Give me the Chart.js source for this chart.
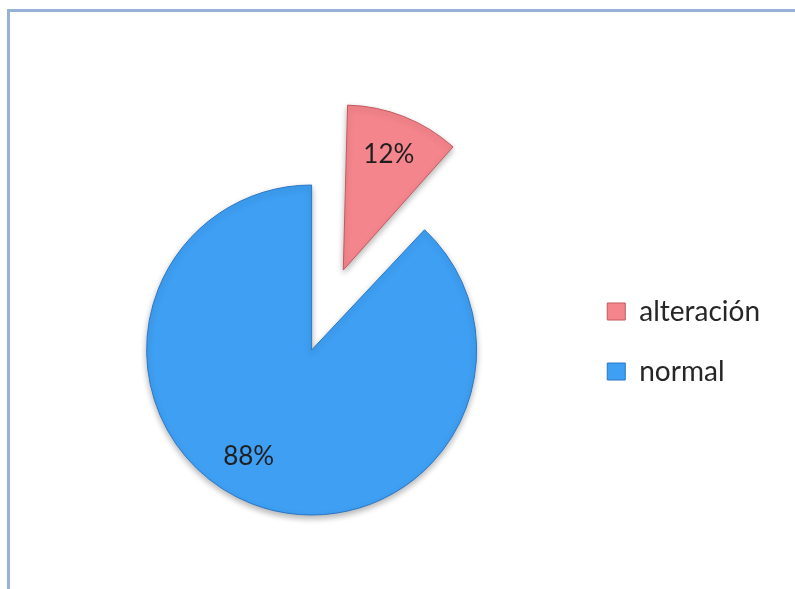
<!DOCTYPE html>
<html>
<head>
<meta charset="utf-8">
<script src="https://cdn.jsdelivr.net/npm/chart.js@4.4.1/dist/chart.umd.min.js"></script>
<style>
    body { margin: 0; background: #fff; overflow: hidden; }
    #wrap { position: relative; width: 795px; height: 589px; }
    #frame {
        position: absolute; left: 7px; top: 9px; width: 900px; height: 700px;
        border-top: 3px solid #96b2d6; border-left: 3px solid #96b2d6;
    }
</style>
</head>
<body>
<div id="wrap">
    <div id="frame"></div>
    <canvas id="myChart"></canvas>
</div>
<script>
// data
const labels = ["alteración", "normal"];
const values = [12, 88];
const colors = ["#f5858c", "#3e9ff3"];
const edges = ["#c4585f", "#2a77c6"];
const offsets = [344, 0];   // pulls the 12% slice out (chart.js moves it by offset/4)
const labelTurn = [0, 9];   // degrees, nudges the % text along the slice

// chart.js also grows an offset slice's radius, undo that so both slices match
function radiusGrow(arc, i) {
    const fix = 1 - Math.sin(Math.min(Math.PI, arc.circumference));
    return offsets[i] / 4 * fix;
}

const explode = {
    id: "explode",
    afterUpdate(chart) {
        chart.getDatasetMeta(0).data.forEach((arc, i) => {
            arc.outerRadius -= radiusGrow(arc, i);
        });
    }
};

// draw percentages inside slices
const pctLabels = {
    id: "pctLabels",
    afterDatasetsDraw(chart) {
        const ctx = chart.ctx;
        const meta = chart.getDatasetMeta(0);
        const total = values.reduce((a, b) => a + b, 0);
        ctx.save();
        ctx.font = "26px Lato";
        ctx.fillStyle = "#1f1f1f";
        ctx.textAlign = "center";
        ctx.textBaseline = "middle";
        meta.data.forEach((arc, i) => {
            const mid = (arc.startAngle + arc.endAngle) / 2;
            const shift = offsets[i] / 4;
            const r = (arc.outerRadius + radiusGrow(arc, i)) * 0.75;
            const a = mid + labelTurn[i] * Math.PI / 180;
            const x = arc.x + Math.cos(mid) * shift + Math.cos(a) * r;
            const y = arc.y + Math.sin(mid) * shift + Math.sin(a) * r;
            ctx.fillText(Math.round(values[i] / total * 100) + "%", x, y);
        });
        ctx.restore();
    }
};

// soft shadow under the pie
const pieShadow = {
    id: "pieShadow",
    beforeDatasetsDraw(chart) {
        const ctx = chart.ctx;
        ctx.save();
        ctx.shadowColor = "rgba(0,0,0,0.3)";
        ctx.shadowBlur = 6;
        ctx.shadowOffsetY = 3;
    },
    afterDatasetsDraw(chart) {
        chart.ctx.restore();
    }
};

const data = {
    labels: labels,
    datasets: [
        {
            data: values,
            backgroundColor: colors,
            borderColor: edges,
            borderWidth: 1,
            offset: offsets,
            hoverOffset: 0,
        },
    ],
};

const config = {
    type: "pie",
    data: data,
    options: {
        responsive: true,
        maintainAspectRatio: false,
        animation: false,
        radius: 165,
        layout: {
            padding: { left: 48, right: 25, top: 94, bottom: 0 },
        },
        plugins: {
            title: {
                display: true,
                text: " ",
                font: { size: 17, lineHeight: 1 },
                padding: 0,
            },
            legend: {
                position: "right",
                labels: {
                    boxWidth: 18,
                    boxHeight: 17,
                    padding: 32,
                    color: "#262626",
                    font: { family: "Lato", size: 28 },
                },
            },
            tooltip: { enabled: false },
        },
    },
    plugins: [explode, pieShadow, pctLabels],
};

const myChart = new Chart(document.getElementById("myChart"), config);
</script>
</body>
</html>
